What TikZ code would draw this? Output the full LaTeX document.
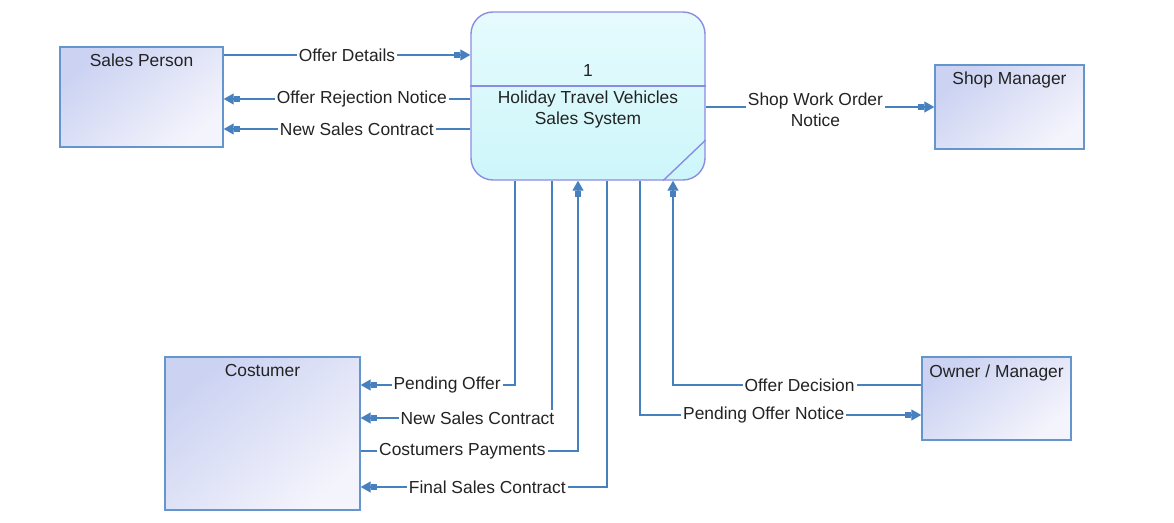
\documentclass[tikz,border=0pt]{standalone}
\usepackage{fontspec}
\setmainfont{Liberation Sans}
\usepackage{tikz}
\usetikzlibrary{arrows.meta,positioning}
\definecolor{flowblue}{RGB}{70,128,190}
\definecolor{extline}{RGB}{100,150,205}
\definecolor{extdark}{RGB}{203,210,242}
\definecolor{extlight}{RGB}{244,244,252}
\definecolor{procline}{RGB}{140,140,228}
\definecolor{proctop}{RGB}{230,251,253}
\definecolor{procbot}{RGB}{205,246,250}
\definecolor{textgrey}{RGB}{35,35,35}
\tikzstyle{entity}  = [shape=rectangle,draw=extline,line width=0.7pt,top color=extdark,bottom color=extlight,shading angle=40]
\tikzstyle{process} = [shape=rectangle,rounded corners=11pt,draw=procline,line width=0.7pt,top color=proctop,bottom color=procbot,minimum width=117pt,minimum height=84pt]
\tikzstyle{title}   = [font=\fontsize{8.7}{10.5}\selectfont,text=textgrey,inner sep=0pt]
\tikzstyle{lbl}     = [font=\fontsize{8.7}{10.5}\selectfont,text=textgrey,fill=white,inner sep=1pt]
\tikzstyle{flow}    = [draw=flowblue,line width=0.65pt]
\tikzstyle{tip}     = [-{Rectangle[length=3pt,width=3pt,sep=0pt]Triangle[length=5pt,width=5.5pt]}]

\begin{document}
\begin{tikzpicture}[x=0.5pt,y=-0.5pt]
  \useasboundingbox (0,0) rectangle (1174,523);

  % External entities
  \node[entity,minimum width=81.5pt,minimum height=50pt] (sales) at (141.5,97) {};
  \node[entity,minimum width=74.5pt,minimum height=42pt] (shop) at (1009.5,107) {};
  \node[entity,minimum width=97.5pt,minimum height=76.5pt] (cust) at (262.5,433.5) {};
  \node[entity,minimum width=74.5pt,minimum height=41.5pt] (owner) at (996.5,398.5) {};
  \node[title,below=3.5pt of sales.north] (sales-t) {Sales Person};
  \node[title,below=3.5pt of shop.north] (shop-t) {Shop Manager};
  \node[title,below=4pt of cust.north] (cust-t) {Costumer};
  \node[title,below=4pt of owner.north] (owner-t) {Owner / Manager};

  % Process
  \node[process] (proc) at (588,96) {};
  \coordinate (div) at (588,86);
  \coordinate (cut1) at (663,180);
  \coordinate (cut2) at (705,140);
  \draw[procline,line width=0.7pt] (proc.west |- div) -- (proc.east |- div);
  \draw[procline,line width=0.7pt] (proc.south -| cut1) -- (proc.east |- cut2);
  \node[title] (proc-n) at (588,71) {1};
  \node[title,align=center] (proc-t) at (588,110) {Holiday Travel Vehicles\\Sales System};

  % Sales person flows
  \coordinate (od) at (0,55);
  \coordinate (orn) at (0,99);
  \coordinate (nsc) at (0,129);
  \draw[flow,tip] (sales.east |- od) -- node[lbl] (od-l) {Offer Details} (proc.west |- od);
  \draw[flow,tip] (proc.west |- orn) -- node[lbl,pos=0.44] (orn-l) {Offer Rejection Notice} (sales.east |- orn);
  \draw[flow,tip] (proc.west |- nsc) -- node[lbl,pos=0.46] (nsc-l) {New Sales Contract} (sales.east |- nsc);

  % Shop manager flow
  \coordinate (swo) at (0,107);
  \draw[flow,tip] (proc.east |- swo) -- node[lbl,align=center,pos=0.48,yshift=-1.5pt] (swo-l) {Shop Work Order\\Notice} (shop.west |- swo);

  % Costumer flows
  \foreach \n/\x/\y/\p/\t in {po/515/385/0.72/Pending Offer,
                              ns/552/418/0.695/New Sales Contract,
                              fs/607/487/0.743/Final Sales Contract}{
    \coordinate (\n) at (\x,\y);
    \draw[flow,tip] (proc.south -| \n) |- node[lbl,pos=\p] (\n-l) {\t} (cust.east |- \n);
  }
  \coordinate (cp) at (578,451);
  \draw[flow,tip] (cust.east |- cp) -| node[lbl,pos=0.234] (cp-l) {Costumers Payments} (proc.south -| cp);

  % Owner / manager flows
  \coordinate (dec) at (673,385);
  \coordinate (pon) at (640,415);
  \draw[flow,tip] (owner.west |- dec) -| node[lbl,pos=0.245] (dec-l) {Offer Decision} (proc.south -| dec);
  \draw[flow,tip] (proc.south -| pon) |- node[lbl,pos=0.72] (pon-l) {Pending Offer Notice} (owner.west |- pon);
\end{tikzpicture}
\end{document}
